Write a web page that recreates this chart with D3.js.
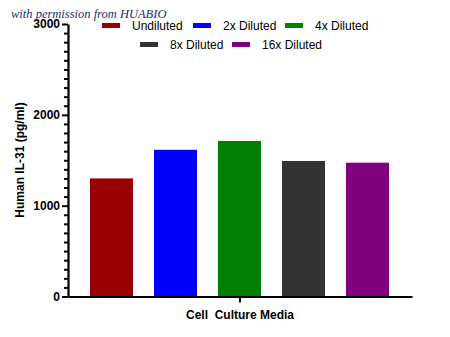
<!DOCTYPE html>
<html><head><meta charset="utf-8">
<script src="https://cdn.jsdelivr.net/npm/d3@7"></script>
<style>
body{margin:0;background:#fff;}
svg{display:block;font-family:"Liberation Sans",Arial,sans-serif;}
</style></head>
<body><svg id="c" width="450" height="337"></svg>
<script>
const group = ["Cell  Culture Media"];
const series = ["Undiluted","2x Diluted","4x Diluted","8x Diluted","16x Diluted"];
const values = [1300, 1615, 1712, 1492, 1473];
const yMajorTicks = [0, 1000, 2000, 3000];
const yLabel = "Human IL-31 (pg/ml)";
const watermark = "with permission from HUABIO";
const colors = ["#990000","#0000ff","#008000","#333333","#800080"];

const svg = d3.select("#c");
const y = d3.scaleLinear().domain([0,3000]).range([296.5,24]);
const gx = d3.scaleBand().domain(group).range([68,412]);
const bx = d3.scaleBand().domain(series).range([79.5,399.5]).paddingInner(0.328).paddingOuter(0.164);

// bars
svg.append("g").selectAll("rect").data(series).join("rect")
  .attr("x", d=>bx(d)).attr("width", bx.bandwidth())
  .attr("y", (d,i)=>y(values[i])).attr("height", (d,i)=>y(0)-y(values[i]))
  .attr("fill", (d,i)=>colors[i]);

// y axis minor
const minor = d3.range(0,3001,100).filter(v=>v%1000!==0);
const yMinor = svg.append("g").attr("transform","translate(68,0)")
  .call(d3.axisLeft(y).tickValues(minor).tickSize(4).tickFormat(""));
yMinor.select(".domain").remove();
yMinor.selectAll("line").attr("stroke","#000").attr("stroke-width",2);
// y axis major
const yAx = svg.append("g").attr("transform","translate(68,0)")
  .call(d3.axisLeft(y).tickValues(yMajorTicks).tickFormat(d3.format("d")).tickSize(6).tickSizeOuter(0).tickPadding(2));
yAx.select(".domain").attr("stroke","#000").attr("stroke-width",2.2);
yAx.selectAll("line").attr("stroke","#000").attr("stroke-width",2);
yAx.selectAll("text").attr("font-size",12).attr("font-weight","bold").attr("fill","#000")
  .attr("font-family","Liberation Sans, Arial, sans-serif");

// x axis
const xAx = svg.append("g").attr("transform","translate(0,296.5)")
  .call(d3.axisBottom(gx).tickSize(6).tickSizeOuter(0).tickPadding(5));
xAx.select(".domain").attr("stroke","#000").attr("stroke-width",2.2);
xAx.selectAll("line").attr("stroke","#000").attr("stroke-width",2);
xAx.selectAll("text").attr("font-size",12).attr("font-weight","bold").attr("fill","#000")
  .attr("font-family","Liberation Sans, Arial, sans-serif").attr("dy","0.95em")
  .style("white-space","pre").attr("xml:space","preserve");

// y label
svg.append("text").attr("transform","translate(24,160) rotate(-90)")
  .attr("text-anchor","middle").attr("font-size",12).attr("font-weight","bold")
  .text(yLabel);

// legend
const legPos = [[102,23],[193,23],[285,23],[140,42],[232,42]];
const leg = svg.append("g").selectAll("g").data(series).join("g")
  .attr("transform",(d,i)=>`translate(${legPos[i][0]},${legPos[i][1]})`);
leg.append("rect").attr("width",18).attr("height",5).attr("fill",(d,i)=>colors[i]);
leg.append("text").attr("x",30).attr("y",7).attr("font-size",12).attr("fill","#000").text(d=>d);

// watermark
svg.append("text").attr("x",11).attr("y",18).attr("font-size",12.5)
  .attr("font-style","italic").attr("font-family","Liberation Serif, DejaVu Serif, serif")
  .attr("fill","#1c2d6b").text(watermark);
</script></body></html>
